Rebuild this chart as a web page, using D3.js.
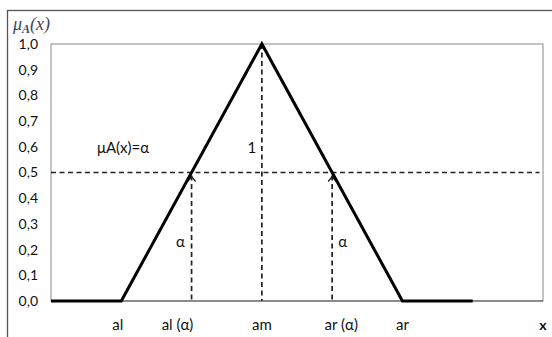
<!DOCTYPE html>
<html>
<head>
<meta charset="utf-8">
<script src="https://cdn.jsdelivr.net/npm/d3@7"></script>
<style>
  body { margin: 0; background: #fff; }
  svg { display: block; font-family: Lato, "Open Sans", sans-serif; }
</style>
</head>
<body>
<svg id="chart" width="552" height="337"></svg>
<script>
// membership function of the triangular fuzzy number
const memX = [0, 1, 3, 5, 6];
const memY = [0, 0, 1, 0, 0];
const alpha = 0.5;
const alphaCuts = [2, 4];     // al(α), ar(α)
const peakX = 3;              // am
const yTickValues = [0, 0.1, 0.2, 0.3, 0.4, 0.5, 0.6, 0.7, 0.8, 0.9, 1.0];
const xLabels = ["al", "al (α)", "am", "ar (α)", "ar"];
const xLabelPos = [0.95, 1.8, 3, 4.13, 5];
const alphaLabelPos = [1.84, 4.15];

const svg = d3.select("#chart");
const margin = {top: 44, right: 9, bottom: 36, left: 51};
const W = 552, H = 337;

const x = d3.scaleLinear().domain([0, 7]).range([margin.left, W - margin.right]);
const y = d3.scaleLinear().domain([0, 1]).range([H - margin.bottom, margin.top]);

const comma = d3.formatLocale({decimal: ",", thousands: " ", grouping: [3], currency: ["", ""]}).format(".1f");

// outer frame (cut by the picture edge)
svg.append("rect")
  .attr("x", 7.5).attr("y", 10.5).attr("width", 600).attr("height", 400)
  .attr("fill", "none").attr("stroke", "#555").attr("stroke-width", 1.3);

// plot area
svg.append("rect")
  .attr("x", x(0)).attr("y", y(1))
  .attr("width", x(7) - x(0)).attr("height", y(0) - y(1))
  .attr("fill", "none").attr("stroke", "#8a8a8a").attr("stroke-width", 1);

// y axis labels
const yAxis = d3.axisLeft(y).tickValues(yTickValues).tickFormat(comma).tickSize(0).tickPadding(13);
svg.append("g")
  .attr("transform", `translate(${x(0)},0)`)
  .call(yAxis)
  .call(g => g.select(".domain").remove())
  .call(g => g.selectAll("text").attr("font-family", "Lato, sans-serif").attr("font-size", 14).attr("fill", "#111"));

// x axis line
svg.append("line")
  .attr("x1", x(0)).attr("x2", x(7)).attr("y1", y(0)).attr("y2", y(0))
  .attr("stroke", "#555").attr("stroke-width", 1.2);

// dashed guides
const dash = "5,3.5";
svg.append("line")
  .attr("x1", x(0)).attr("x2", x(6.95)).attr("y1", y(alpha)).attr("y2", y(alpha))
  .attr("stroke", "#222").attr("stroke-width", 1.6).attr("stroke-dasharray", dash);
svg.append("line")
  .attr("x1", x(peakX)).attr("x2", x(peakX)).attr("y1", y(1)).attr("y2", y(0))
  .attr("stroke", "#222").attr("stroke-width", 1.7).attr("stroke-dasharray", dash);

svg.selectAll("line.cut")
  .data(alphaCuts).join("line").attr("class", "cut")
  .attr("x1", d => x(d)).attr("x2", d => x(d))
  .attr("y1", y(alpha) + 3).attr("y2", y(0))
  .attr("stroke", "#222").attr("stroke-width", 1.7).attr("stroke-dasharray", dash);

// small open arrow heads at the top of the alpha-cut lines
svg.selectAll("path.arrow")
  .data(alphaCuts).join("path").attr("class", "arrow")
  .attr("d", d => `M${x(d) - 4},${y(alpha) + 9} L${x(d)},${y(alpha) + 4} L${x(d) + 4},${y(alpha) + 9}`)
  .attr("fill", "none").attr("stroke", "#222").attr("stroke-width", 1.3);

// membership function
const line = d3.line().x((d, i) => x(memX[i])).y((d, i) => y(memY[i]));
svg.append("path")
  .datum(memX)
  .attr("d", line)
  .attr("fill", "none").attr("stroke", "#000").attr("stroke-width", 3)
  .attr("stroke-linejoin", "miter");

// text labels
const txt = (t, px, py, opts = {}) => svg.append("text")
  .attr("x", px).attr("y", py)
  .attr("text-anchor", opts.anchor || "middle")
  .attr("dominant-baseline", "central")
  .attr("font-size", opts.size || 15)
  .attr("font-weight", opts.weight || "normal")
  .attr("fill", "#111")
  .text(t);

svg.selectAll("text.xl")
  .data(xLabels).join("text").attr("class", "xl")
  .attr("x", (d, i) => x(xLabelPos[i]))
  .attr("y", 324)
  .attr("text-anchor", "middle").attr("dominant-baseline", "central")
  .attr("font-size", 15).attr("fill", "#111")
  .text(d => d);

txt("x", x(7), 324, {weight: "bold", size: 14});
txt("μA(x)=α", 97, 147, {anchor: "start"});
txt("1", x(peakX) - 10, 147);
svg.selectAll("text.al")
  .data(alphaLabelPos).join("text").attr("class", "al")
  .attr("x", d => x(d)).attr("y", 241)
  .attr("text-anchor", "middle").attr("dominant-baseline", "central")
  .attr("font-size", 15).attr("fill", "#111")
  .text("α");

// axis title μA(x)
const title = svg.append("text")
  .attr("x", 13).attr("y", 30)
  .attr("font-family", "'Liberation Serif', serif")
  .attr("font-style", "italic")
  .attr("font-size", 18)
  .attr("fill", "#3a4766");
title.append("tspan").text("μ");
title.append("tspan").attr("font-size", 12).attr("font-weight", "bold").attr("dy", 3).text("A");
title.append("tspan").attr("dy", -3).text("(x)");
</script>
</body>
</html>
